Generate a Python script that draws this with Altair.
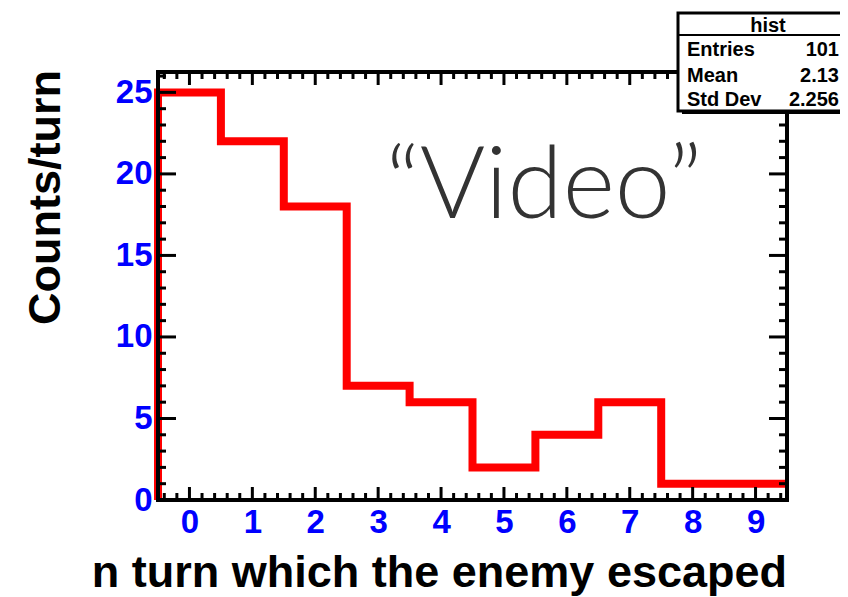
import altair as alt
import pandas as pd

# ---- data ----
bins = [0, 1, 2, 3, 4, 5, 6, 7, 8, 9]
counts = [25, 22, 18, 7, 6, 2, 4, 6, 1, 1]
x_tick_labels = [0, 1, 2, 3, 4, 5, 6, 7, 8, 9]
y_tick_labels = [0, 5, 10, 15, 20, 25]
stats_title = "hist"
stats_names = ["Entries", "Mean", "Std Dev"]
stats_values = ["101", "2.13", "2.256"]
x_title = "n turn which the enemy escaped"
y_title = "Counts/turn"
annotation = "\u201cVideo\u201d"

W, H = 629, 428
FONT = "Liberation Sans"

# step outline built from bin edges
xs = [bins[0] - 0.5]
ys = [0]
for b, c in zip(bins, counts):
    xs.append(b - 0.5)
    ys.append(c)
xs.append(bins[-1] + 0.5)
ys.append(counts[-1])
step_df = pd.DataFrame({"x": xs, "y": ys, "o": list(range(len(xs)))})

x_scale = alt.Scale(domain=[-0.5, 9.5], nice=False, zero=False)
y_scale = alt.Scale(domain=[0, 26.25], nice=False, zero=False)

x_axis = alt.Axis(values=x_tick_labels, title=None, domain=False, ticks=False, grid=False,
                  labelFont=FONT, labelFontWeight="bold", labelFontSize=33,
                  labelColor="#0000ff", labelPadding=6, labelFlush=False,
                  labelOverlap=False, format="d")
y_axis = alt.Axis(values=y_tick_labels, title=None, domain=False, ticks=False, grid=False,
                  labelFont=FONT, labelFontWeight="bold", labelFontSize=33,
                  labelColor="#0000ff", labelPadding=6, labelFlush=False,
                  labelOverlap=False, format="d")

line = alt.Chart(step_df).mark_line(
    interpolate="step-after", color="#ff0000", strokeWidth=8,
    strokeCap="butt", strokeJoin="miter"
).encode(
    x=alt.X("x:Q", scale=x_scale, axis=x_axis),
    y=alt.Y("y:Q", scale=y_scale, axis=y_axis),
    order="o:Q",
)

# tick marks (ROOT style, inside the frame)
x_major = [float(v) for v in x_tick_labels]
x_minor = [round(-0.4 + 0.2 * i, 1) for i in range(50)]
x_minor = [v for v in x_minor if abs(v - round(v)) > 1e-6]
y_major = [float(v) for v in y_tick_labels]
y_minor = [v for v in range(1, 27) if v % 5 != 0]

def xticks(vals, length):
    d = pd.DataFrame({"v": vals})
    base = alt.Chart(d).mark_rule(color="black", strokeWidth=3)
    enc_x = alt.X("v:Q", scale=x_scale, axis=x_axis)
    bottom = base.encode(x=enc_x, y=alt.value(H), y2=alt.value(H - length))
    top = base.encode(x=enc_x, y=alt.value(0), y2=alt.value(length))
    return [bottom, top]

def yticks(vals, length):
    d = pd.DataFrame({"v": vals})
    base = alt.Chart(d).mark_rule(color="black", strokeWidth=3)
    enc_y = alt.Y("v:Q", scale=y_scale, axis=y_axis)
    left = base.encode(y=enc_y, x=alt.value(0), x2=alt.value(length))
    right = base.encode(y=enc_y, x=alt.value(W), x2=alt.value(W - length))
    return [left, right]

tick_layers = xticks(x_major, 13) + xticks(x_minor, 7) + yticks(y_major, 18) + yticks(y_minor, 8)

frame = alt.Chart(step_df).mark_rect(fillOpacity=0, stroke="black", strokeWidth=3).encode(
    x=alt.value(0), x2=alt.value(W), y=alt.value(0), y2=alt.value(H)
)

one = pd.DataFrame({"a": [0]})

video = alt.Chart(one).mark_text(
    text=annotation, font="Lato", fontWeight=300, fontSize=100, color="#333333",
    align="center", baseline="alphabetic"
).encode(x=alt.value(386), y=alt.value(146))

xtitle = alt.Chart(one).mark_text(
    text=x_title, font=FONT, fontWeight="bold", fontSize=45, color="black",
    align="right", baseline="alphabetic"
).encode(x=alt.value(W), y=alt.value(515))

ytitle = alt.Chart(one).mark_text(
    text=y_title, font=FONT, fontWeight="bold", fontSize=45, color="black",
    align="right", baseline="alphabetic", angle=270
).encode(x=alt.value(-98), y=alt.value(-2))

# stats box
shadow = alt.Chart(one).mark_rect(fill="black").encode(
    x=alt.value(524), x2=alt.value(720), y=alt.value(-55), y2=alt.value(42))
box = alt.Chart(one).mark_rect(fill="white", stroke="black", strokeWidth=3).encode(
    x=alt.value(520), x2=alt.value(720), y=alt.value(-59), y2=alt.value(39))
sep = alt.Chart(one).mark_rule(color="black", strokeWidth=2).encode(
    x=alt.value(520), x2=alt.value(720), y=alt.value(-37))
stat_layers = [shadow, box, sep,
               alt.Chart(one).mark_text(text=stats_title, font=FONT, fontWeight="bold",
                                        fontSize=20, align="center", baseline="alphabetic",
                                        color="black").encode(x=alt.value(610), y=alt.value(-40))]
row_y = [-16, 10, 34]
for name, val, yy in zip(stats_names, stats_values, row_y):
    stat_layers.append(alt.Chart(one).mark_text(text=name, font=FONT, fontWeight="bold",
                                                fontSize=20, align="left", baseline="alphabetic",
                                                color="black").encode(x=alt.value(529), y=alt.value(yy)))
    stat_layers.append(alt.Chart(one).mark_text(text=val, font=FONT, fontWeight="bold",
                                                fontSize=20, align="right", baseline="alphabetic",
                                                color="black").encode(x=alt.value(681), y=alt.value(yy)))

chart = alt.layer(line, *tick_layers, frame, video, xtitle, ytitle, *stat_layers).properties(
    width=W, height=H,
    padding={"left": 150, "top": 64, "right": 53, "bottom": 97},
    autosize=alt.AutoSizeParams(type="none"),
    background="white",
).configure_view(stroke=None)

chart.save("out.html", embed_options={"renderer": "svg", "actions": False})
